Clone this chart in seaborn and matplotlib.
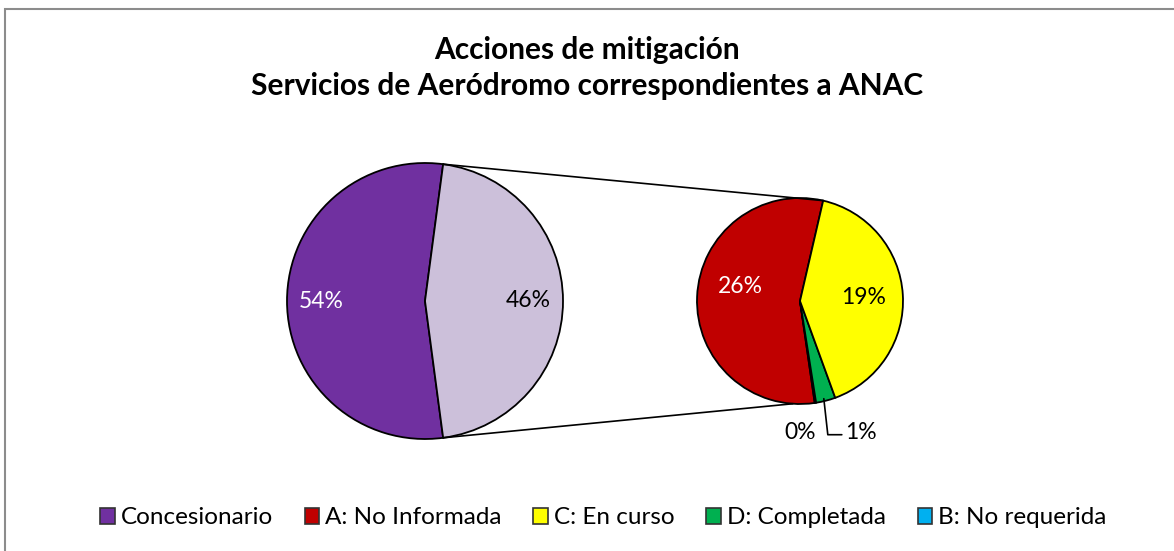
import numpy as np
import matplotlib.pyplot as plt
import seaborn as sns
from matplotlib.patches import Patch, Rectangle

sns.set_style("white")
plt.rcParams['font.family'] = ['Lato', 'DejaVu Sans']
plt.rcParams['text.color'] = 'black'

# data (percent of total)
main_labels = ['Concesionario', 'Resto']
main_values = [54.2, 45.8]
sub_labels = ['A: No Informada', 'B: No requerida', 'D: Completada', 'C: En curso']
sub_values = [25.6, 0.1, 1.4, 18.7]
legend_order = ['Concesionario', 'A: No Informada', 'C: En curso', 'D: Completada', 'B: No requerida']
title_lines = ['Acciones de mitigación', 'Servicios de Aeródromo correspondientes a ANAC']

colors = {'Concesionario': '#7030A0', 'Resto': '#CCC0DA',
          'A: No Informada': '#C00000', 'C: En curso': '#FFFF00',
          'D: Completada': '#00B050', 'B: No requerida': '#00B0F0'}

W, H = 1174, 551
fig = plt.figure(figsize=(W / 100, H / 100), dpi=100)
ax = fig.add_axes([0, 0, 1, 1])

c1, r1 = (425, 250), 138
c2, r2 = (800, 250), 103
wp = dict(edgecolor='black', linewidth=1.3)
lbl = dict(fontsize=16.5, color='black')

# left pie: the "Resto" slice is centered on the right side
other_frac = main_values[1] / sum(main_values)
start1 = other_frac * 180
w1, t1, a1 = ax.pie(main_values, colors=[colors[l] for l in main_labels], center=c1, radius=r1,
                    startangle=start1, wedgeprops=wp, autopct=lambda p: f'{p:.0f}%',
                    pctdistance=0.75, textprops=lbl)
a1[0].set_color('white')

# right pie
tot = sum(sub_values)
w2, t2, a2 = ax.pie(sub_values, colors=[colors[l] for l in sub_labels], center=c2, radius=r2,
                    startangle=77, wedgeprops=wp,
                    autopct=lambda p: f'{p * tot / 100:.0f}%',
                    pctdistance=0.62, textprops=lbl)
a2[0].set_color('white')
a2[0].set_position((c2[0] - 0.58 * r2, c2[1] + 0.14 * r2))

# pie() resets the limits, so set them afterwards
ax.set_xlim(0, W)
ax.set_ylim(0, H)
ax.set_aspect('equal')
ax.axis('off')

# chart border
ax.add_patch(Rectangle((5, -10), W + 20, H - 9 + 10, fill=False, edgecolor='#8c8c8c', lw=1.5))

# small slices labelled outside
def edge(c, r, ang):
    return c[0] + r * np.cos(np.radians(ang)), c[1] + r * np.sin(np.radians(ang))

b_ang = 0.5 * (w2[1].theta1 + w2[1].theta2)
bx, by = edge(c2, r2, b_ang)
a2[1].set_position((bx - 15, by - 30))
a2[1].set_ha('center')

d_ang = 0.5 * (w2[2].theta1 + w2[2].theta2)
dx, dy = edge(c2, r2, d_ang)
ax.plot([dx - 2, dx + 2, dx + 16], [dy + 2, dy - 34, dy - 34], color='black', lw=1.2)
a2[2].set_position((dx + 19, dy - 32))
a2[2].set_ha('left')

# connector lines
p_top = edge(c1, r1, start1)
p_bot = edge(c1, r1, -start1)
q_top = edge(c2, r2, 77)
q_bot = edge(c2, r2, 266)
ax.plot([p_top[0], q_top[0]], [p_top[1], q_top[1]], color='black', lw=1.2)
ax.plot([p_bot[0], q_bot[0]], [p_bot[1], q_bot[1]], color='black', lw=1.2)

# title, two lines
for i, line in enumerate(title_lines):
    fig.text(0.5, 1 - (59 + 36 * i) / H, line, ha='center', va='baseline',
             fontsize=21.5, fontweight='bold')

handles = [Patch(facecolor=colors[l], edgecolor='#333333', lw=1.2, label=l) for l in legend_order]
fig.legend(handles=handles, loc='center', bbox_to_anchor=(0.514, 1 - 518 / H), ncol=5, frameon=False,
           fontsize=17.5, handlelength=0.6, handleheight=0.6, handletextpad=0.25, columnspacing=1.3)

fig.savefig('out.png', dpi=100)
